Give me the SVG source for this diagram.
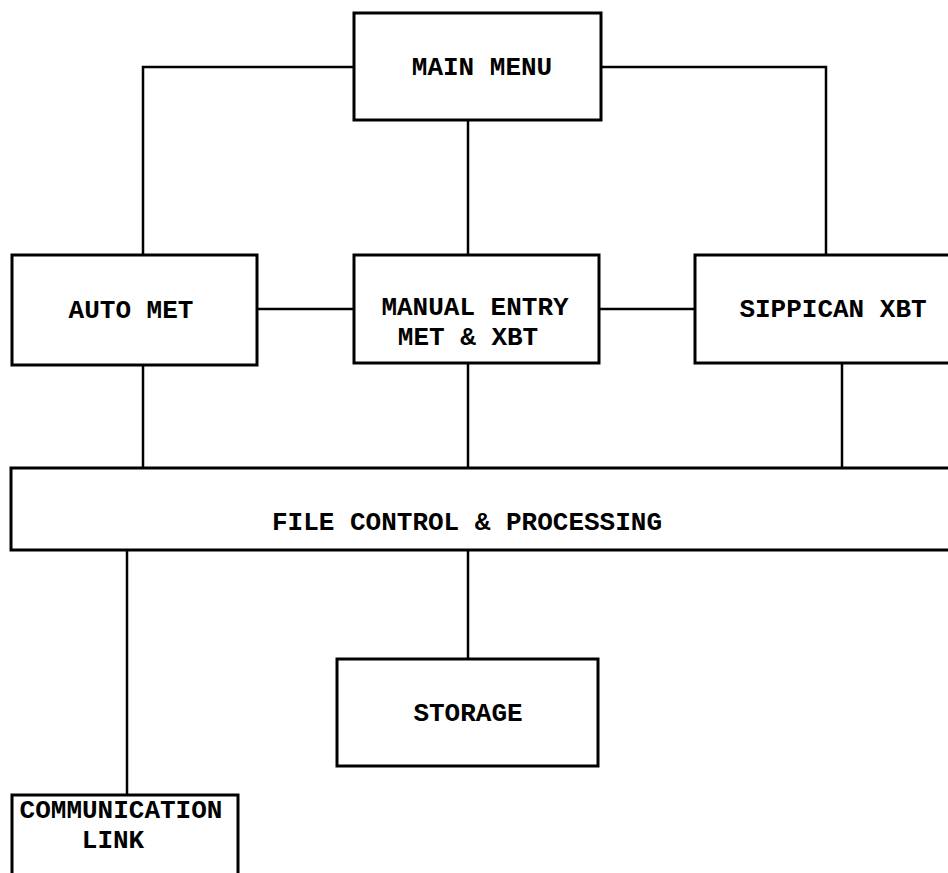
<svg xmlns="http://www.w3.org/2000/svg" width="948" height="873" viewBox="0 0 948 873">
<style>
.box{fill:#fff;stroke:#000;stroke-width:3}
.ln{fill:none;stroke:#000;stroke-width:2.5}
text{font-family:"Liberation Mono","Courier New",monospace;font-weight:bold;font-size:26px;fill:#000;text-anchor:middle}
</style>
<rect width="948" height="873" fill="#fff"/>
<g id="connectors">
<polyline class="ln" points="354,67 143,67 143,255"/>
<polyline class="ln" points="601,67 826,67 826,255"/>
<line class="ln" x1="468" y1="120" x2="468" y2="255"/>
<line class="ln" x1="257" y1="309" x2="354" y2="309"/>
<line class="ln" x1="599" y1="309" x2="695" y2="309"/>
<line class="ln" x1="143" y1="365" x2="143" y2="468"/>
<line class="ln" x1="468" y1="363" x2="468" y2="468"/>
<line class="ln" x1="842" y1="363" x2="842" y2="468"/>
<line class="ln" x1="127" y1="550" x2="127" y2="795"/>
<line class="ln" x1="468" y1="550" x2="468" y2="659"/>
</g>
<g id="main-menu">
<rect class="box" x="354" y="13" width="247" height="107"/>
<text x="482" y="75">MAIN MENU</text>
</g>
<g id="auto-met">
<rect class="box" x="12" y="255" width="245" height="110"/>
<text x="131" y="318">AUTO MET</text>
</g>
<g id="manual-entry">
<rect class="box" x="354" y="255" width="245" height="108"/>
<text x="475" y="315">MANUAL ENTRY</text>
<text x="468" y="345">MET &amp; XBT</text>
</g>
<g id="sippican-xbt">
<rect class="box" x="695" y="255" width="260" height="108"/>
<text x="833" y="317">SIPPICAN XBT</text>
</g>
<g id="file-control">
<rect class="box" x="11" y="468" width="944" height="82"/>
<text x="467" y="530">FILE CONTROL &amp; PROCESSING</text>
</g>
<g id="storage">
<rect class="box" x="337" y="659" width="261" height="107"/>
<text x="468" y="721">STORAGE</text>
</g>
<g id="communication-link">
<rect class="box" x="12" y="795" width="226" height="100"/>
<text x="121" y="818">COMMUNICATION</text>
<text x="113" y="848">LINK</text>
</g>
</svg>
